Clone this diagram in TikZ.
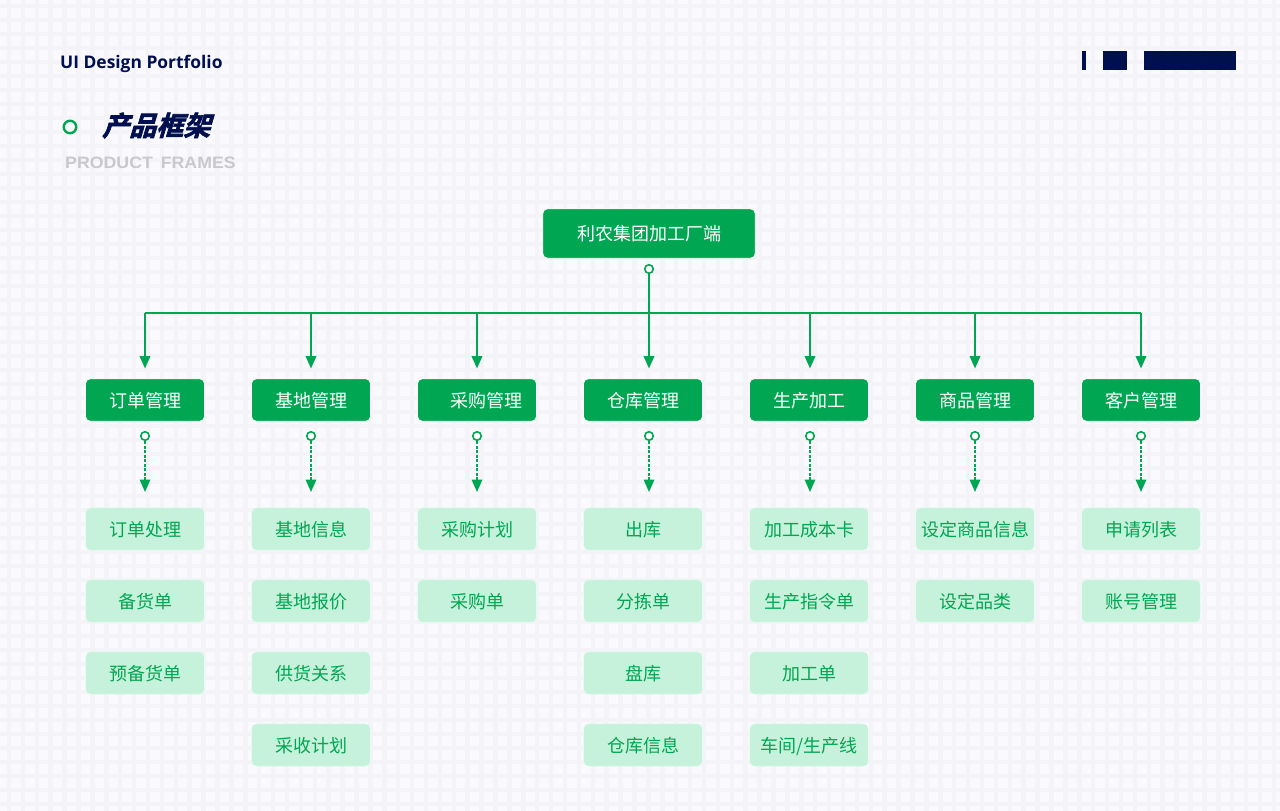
\documentclass[tikz,border=0pt]{standalone}
\usepackage{fontspec}
\usetikzlibrary{arrows.meta}
\setmainfont{Noto Sans CJK SC}
\newfontfamily\latinbold{Open Sans}
\newfontfamily\titlefont[FakeSlant=0.3,FakeBold=2.5]{Noto Sans CJK SC Bold}
\newfontfamily\subtitlefont[FakeStretch=1.075]{Liberation Sans Bold}
\definecolor{bgbase}{HTML}{FAFAFE}
\definecolor{bggrid}{HTML}{F3F3F8}
\definecolor{gmain}{HTML}{00A651}
\definecolor{glight}{HTML}{C6F2DC}
\definecolor{navy}{HTML}{000F4D}
\definecolor{greytxt}{HTML}{C9C9CB}
\tikzset{
  x=1pt,y=-1pt,
  boxfont/.style={font=\fontsize{18pt}{20pt}\selectfont},
  rootbox/.style={draw=white,line width=0.6pt,fill=gmain,text=white,rounded corners=5pt,minimum width=212.5pt,minimum height=49.5pt,inner sep=0pt,boxfont},
  headbox/.style={draw=white,line width=0.6pt,fill=gmain,text=white,rounded corners=5pt,minimum width=119pt,minimum height=42.5pt,inner sep=0pt,text height=16pt,text depth=0.4pt,boxfont},
  subbox/.style={draw=white!60!glight,line width=0.6pt,fill=glight,text=gmain,rounded corners=5pt,minimum width=119pt,minimum height=42.5pt,inner sep=0pt,text height=16pt,text depth=0.4pt,boxfont},
  dotnode/.style={circle,draw=gmain,fill=white,line width=1.6pt,minimum size=8.5pt,inner sep=0pt},
  solidconn/.style={draw=gmain,line width=2pt},
  arrowconn/.style={draw=gmain,line width=2pt,-{Triangle[length=12.5pt,width=10.5pt]}},
  dashconn/.style={draw=gmain,line width=1.7pt,dash pattern=on 3pt off 1.5pt,-{Triangle[length=12.5pt,width=10.5pt]}},
  gridline/.style={draw=bggrid,line width=4.5pt},
}
\begin{document}
\begin{tikzpicture}
\useasboundingbox (0,0) rectangle (1280,811);
\fill[bgbase] (0,0) rectangle (1280,811);
% background grid
\foreach \g in {0,...,92} {\draw[gridline] ({9+13.9*\g},0) -- ({9+13.9*\g},811);}
\foreach \g in {0,...,58} {\draw[gridline] (0,{6+14*\g}) -- (1280,{6+14*\g});}
% header
\node[anchor=west,inner sep=0pt,text=navy,font=\latinbold\bfseries\fontsize{17.4pt}{20pt}\selectfont] (brand) at (60,63.5) {UI Design Portfolio};
\fill[navy] (1082,51) rectangle (1086,70);
\fill[navy] (1103,51) rectangle (1127,70);
\fill[navy] (1144,51) rectangle (1236,70);
\node[circle,draw=gmain,line width=2.4pt,minimum size=12.5pt,inner sep=0pt] (titledot) at (70,127) {};
\node[anchor=west,inner sep=0pt,text=navy,font=\titlefont\fontsize{27pt}{30pt}\selectfont] (title) at (102,125.5) {产品框架};
\node[anchor=west,inner sep=0pt,text=greytxt,font=\subtitlefont\fontsize{16.5pt}{20pt}\selectfont] (subtitle) at (65,163) {PRODUCT\hspace{3pt} FRAMES};
% root
\node[rootbox] (root) at (649,233.5) {利农集团加工厂端};
\node[dotnode] (rootdot) at (649,269) {};
% head boxes
\node[headbox] (h1) at (145,400) {订单管理};
\node[headbox] (h2) at (311,400) {基地管理};
\node[headbox] (h3) at (477,400) {\hspace*{18pt}采购管理};
\node[headbox] (h4) at (643,400) {仓库管理};
\node[headbox] (h5) at (809,400) {生产加工};
\node[headbox] (h6) at (975,400) {商品管理};
\node[headbox] (h7) at (1141,400) {客户管理};
% bus junctions, arrow ends, dots
\foreach \n/\x in {1/145,2/311,3/477,4/649,5/810,6/975,7/1141} {
  \coordinate (j\n) at (\x,313);
  \coordinate (t\n) at (\x,368.5);
  \coordinate (e\n) at (\x,492);
  \node[dotnode] (d\n) at (\x,436) {};
}
% bus and drops
\draw[solidconn,line cap=square] (j1) -- (j7);
\draw[solidconn] (rootdot) -- (j4);
\foreach \n in {1,...,7} {
  \draw[arrowconn] (j\n) -- (t\n);
  \draw[dashconn] (d\n) -- (e\n);
}
% sub boxes
\node[subbox] (a1) at (145,529) {订单处理};
\node[subbox] (a2) at (145,601) {备货单};
\node[subbox] (a3) at (145,673) {预备货单};
\node[subbox] (b1) at (311,529) {基地信息};
\node[subbox] (b2) at (311,601) {基地报价};
\node[subbox] (b3) at (311,673) {供货关系};
\node[subbox] (b4) at (311,745) {采收计划};
\node[subbox] (c1) at (477,529) {采购计划};
\node[subbox] (c2) at (477,601) {采购单};
\node[subbox] (s1) at (643,529) {出库};
\node[subbox] (s2) at (643,601) {分拣单};
\node[subbox] (s3) at (643,673) {盘库};
\node[subbox] (s4) at (643,745) {仓库信息};
\node[subbox] (f1) at (809,529) {加工成本卡};
\node[subbox] (f2) at (809,601) {生产指令单};
\node[subbox] (f3) at (809,673) {加工单};
\node[subbox] (f4) at (809,745) {车间/生产线};
\node[subbox] (g1) at (975,529) {设定商品信息};
\node[subbox] (g2) at (975,601) {设定品类};
\node[subbox] (k1) at (1141,529) {申请列表};
\node[subbox] (k2) at (1141,601) {账号管理};
\end{tikzpicture}
\end{document}
